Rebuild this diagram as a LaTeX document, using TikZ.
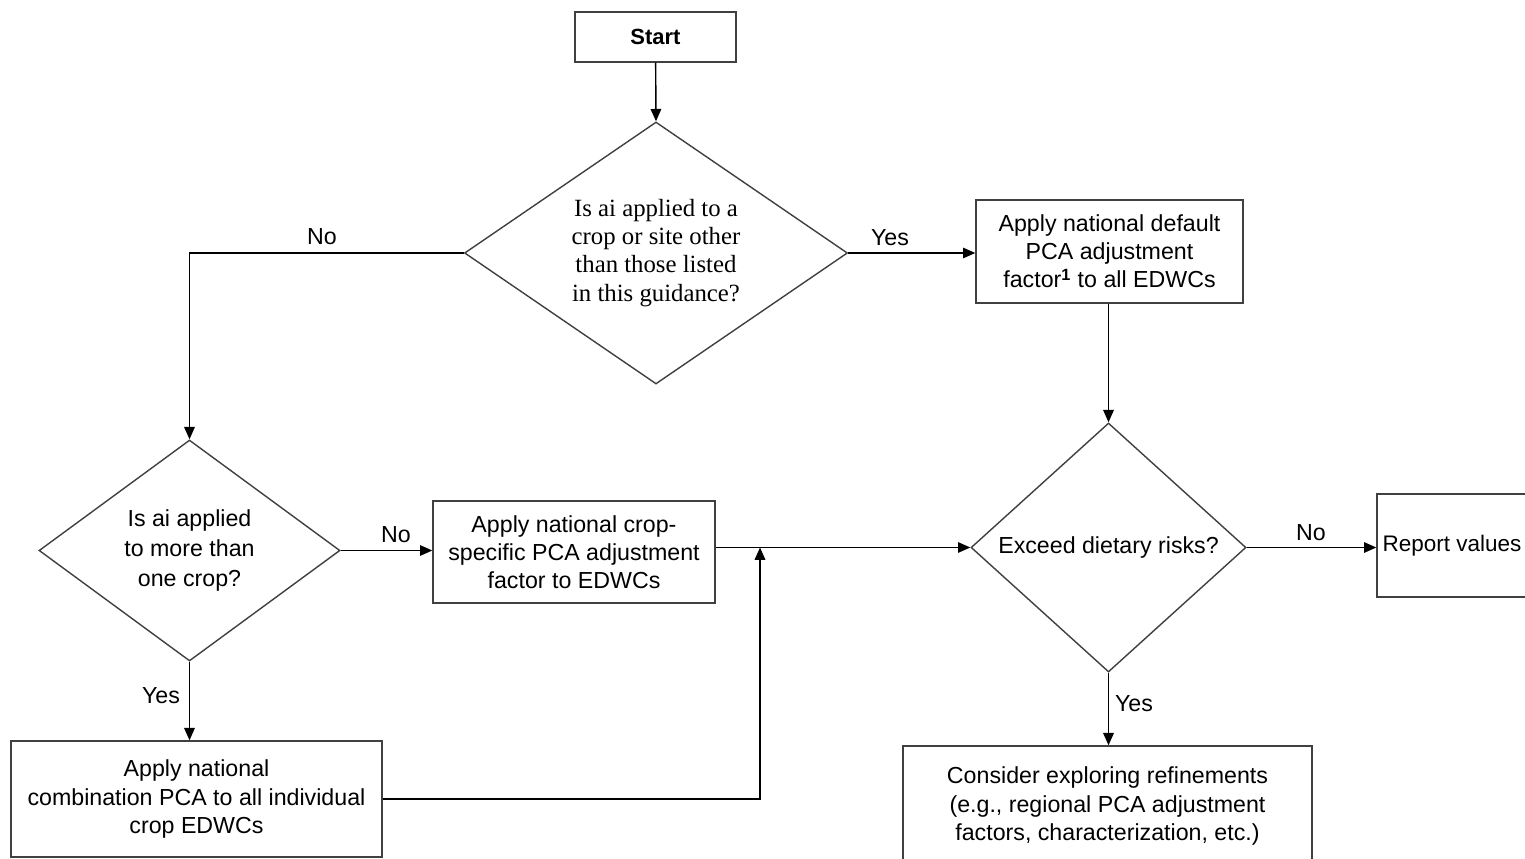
\documentclass[tikz,border=0pt]{standalone}
\usepackage{fontspec}
\setmainfont{Liberation Sans}
\newfontfamily\qfont{Liberation Serif}
\usetikzlibrary{shapes.geometric,arrows.meta}

\begin{document}
\begin{tikzpicture}[x=0.2mm, y=-0.2mm,
  every node/.style={font=\fontsize{13.2}{16}\selectfont},
  box/.style={draw=black!75, line width=0.8pt, rectangle, align=center, inner sep=0pt},
  query/.style={draw=black!75, line width=0.8pt, diamond, aspect=1.46, align=center, inner sep=0pt},
  link/.style={line width=0.8pt, -{Triangle[length=7pt,width=6pt]}}]
  \useasboundingbox (0,0) rectangle (1525,859);
  \clip (0,0) rectangle (1525,859);

  % start
  \node[box, minimum width=3.22cm, minimum height=1cm, font=\fontsize{12.5}{16}\selectfont\bfseries]
    (start) at (655.5,37) {Start};

  % decisions
  \node[query, minimum width=7.66cm, minimum height=5.24cm,
    font=\qfont\fontsize{14.1}{16}\selectfont] (other) at (656,253)
    {Is ai applied to a\\crop or site other\\than those listed\\in this guidance?};
  \node[query, minimum width=6.02cm, minimum height=4.42cm,
    font=\fontsize{13.2}{16.8}\selectfont] (multi) at (189.5,550.5)
    {Is ai applied\\to more than\\one crop?};
  \node[query, minimum width=5.5cm, minimum height=4.98cm] (risk) at (1108.5,547.5)
    {Exceed dietary risks?};

  % actions
  \node[box, minimum width=5.34cm, minimum height=2.06cm] (default) at (1109.5,251.5)
    {Apply national default\\PCA adjustment\\factor\textsuperscript{\textbf{1}} to all EDWCs};
  \node[box, minimum width=5.64cm, minimum height=2.04cm] (single) at (574,552)
    {Apply national crop-\\specific PCA adjustment\\factor to EDWCs};
  \node[box, minimum width=7.42cm, minimum height=2.32cm] (combo) at (196.5,799)
    {Apply national\\combination PCA to all individual\\crop EDWCs};
  \node[box, minimum width=8.18cm, minimum height=2.4cm] (refine) at (1107.5,806)
    {Consider exploring refinements\\(e.g., regional PCA adjustment\\factors, characterization, etc.)};
  \node[box, minimum width=3cm, minimum height=2.06cm, font=\fontsize{12.8}{16}\selectfont]
    (report) at (1452,545.5) {Report values};

  % joins
  \coordinate (merge) at (risk.west -| 760,0);

  % connectors
  \draw[link] (start) -- (other.north);
  \draw[link] (other.east) -- (other.east -| default.west);
  \draw[link] (other.west) -| (multi.north);
  \draw[link] (multi.east) -- (multi.east -| single.west);
  \draw[line width=0.8pt] (single.east |- risk.west) -- (merge);
  \draw[link] (merge) -- (risk.west);
  \draw[link] (combo.east) -| (merge);
  \draw[link] (risk.north |- default.south) -- (risk.north);
  \draw[link] (risk.east) -- (risk.east -| report.west);
  \draw[link] (multi.south) -- (multi.south |- combo.north);
  \draw[link] (risk.south) -- (risk.south |- refine.north);

  % labels
  \node (noother) at (322,237) {No};
  \node (yesother) at (890,238) {Yes};
  \node (nomulti) at (396,535) {No};
  \node (yesmulti) at (161,696) {Yes};
  \node (norisk) at (1311,533) {No};
  \node (yesrisk) at (1134,704) {Yes};
\end{tikzpicture}
\end{document}
